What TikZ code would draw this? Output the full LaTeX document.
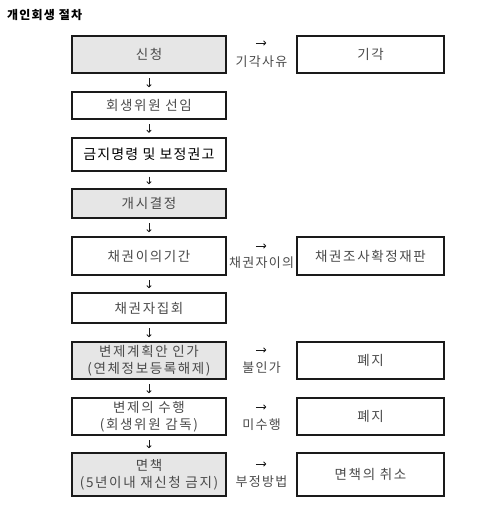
\documentclass[tikz,border=0pt]{standalone}
\usepackage{fontspec}
\setmainfont{Noto Sans CJK KR}
\usepackage{tikz}
\usetikzlibrary{arrows, arrows.meta}
\definecolor{BOXFILL}{HTML}{E6E6E6}
\definecolor{LINE}{HTML}{1A1A1A}
\definecolor{TEXT}{HTML}{4A4A4A}

\begin{document}
\begin{tikzpicture}[x=1pt, y=-1pt,
    box/.style={draw=LINE, line width=1.6pt, text=TEXT, font=\fontsize{13.5}{16.5}\selectfont\addfontfeature{LetterSpace=12}, align=center, inner sep=0pt},
    lbox/.style={box, minimum width=154pt},
    rbox/.style={box, minimum width=147pt},
    lbl/.style={text=TEXT, font=\fontsize{13}{15}\selectfont\addfontfeature{LetterSpace=10}, inner sep=0pt},
    darr/.style={LINE, line width=0.9pt, -{To[length=3pt, width=5pt]}, shorten <=4.5pt, shorten >=4pt},
    rarr/.style={LINE, line width=0.9pt, -{To[length=3pt, width=5pt]}, shorten <=29pt, shorten >=30pt}]
    \useasboundingbox (0,0) rectangle (500,519);
    \node[anchor=west, font=\bfseries\fontsize{12}{14}\selectfont\addfontfeature{LetterSpace=10}, inner sep=0pt] (title) at (7,15) {개인회생 절차};
    % left column
    \node[lbox, fill=BOXFILL, minimum height=37pt] (s1) at (149,54.5) {신청};
    \node[lbox, minimum height=27pt] (s2) at (149,105.5) {회생위원 선임};
    \node[lbox, minimum height=33pt, line width=2.4pt, text=black, font=\fontsize{14}{16}\selectfont\addfontfeature{LetterSpace=8}] (s3) at (149,154.5) {금지명령 및 보정권고};
    \node[lbox, fill=BOXFILL, minimum height=29pt] (s4) at (149,203.5) {개시결정};
    \node[lbox, minimum height=38pt] (s5) at (149,256) {채권이의기간};
    \node[lbox, minimum height=30pt] (s6) at (149,308) {채권자집회};
    \node[lbox, fill=BOXFILL, minimum height=37pt] (s7) at (149,360.5) {변제계획안 인가\\(연체정보등록해제)};
    \node[lbox, minimum height=37pt] (s8) at (149,416.5) {변제의 수행\\(회생위원 감독)};
    \node[lbox, fill=BOXFILL, minimum height=43pt] (s9) at (149,474.5) {면책\\(5년이내 재신청 금지)};
    % right column
    \node[rbox, minimum height=37pt] (k1) at (370.5,54.5) {기각};
    \node[rbox, minimum height=38pt] (k5) at (370.5,256) {채권조사확정재판};
    \node[rbox, minimum height=37pt] (k7) at (370.5,360.5) {폐지};
    \node[rbox, minimum height=37pt] (k8) at (370.5,416.5) {폐지};
    \node[rbox, minimum height=43pt] (k9) at (370.5,474.5) {면책의 취소};
    % down arrows
    \foreach \a/\b in {s1/s2, s2/s3, s3/s4, s4/s5, s5/s6, s6/s7, s7/s8, s8/s9}
        \draw[darr] (\a) -- (\b);
    % side arrows
    \draw[rarr] ([yshift=11.5pt]s1.east) -- node[lbl, yshift=-19pt] (l1) {기각사유} ([yshift=11.5pt]k1.west);
    \draw[rarr] ([yshift=10pt]s5.east) -- node[lbl, yshift=-17pt] (l5) {채권자이의} ([yshift=10pt]k5.west);
    \draw[rarr] ([yshift=10.5pt]s7.east) -- node[lbl, yshift=-18pt] (l7) {불인가} ([yshift=10.5pt]k7.west);
    \draw[rarr] ([yshift=9.5pt]s8.east) -- node[lbl, yshift=-18pt] (l8) {미수행} ([yshift=9.5pt]k8.west);
    \draw[rarr] ([yshift=10.5pt]s9.east) -- node[lbl, yshift=-18pt] (l9) {부정방법} ([yshift=10.5pt]k9.west);
\end{tikzpicture}
\end{document}
